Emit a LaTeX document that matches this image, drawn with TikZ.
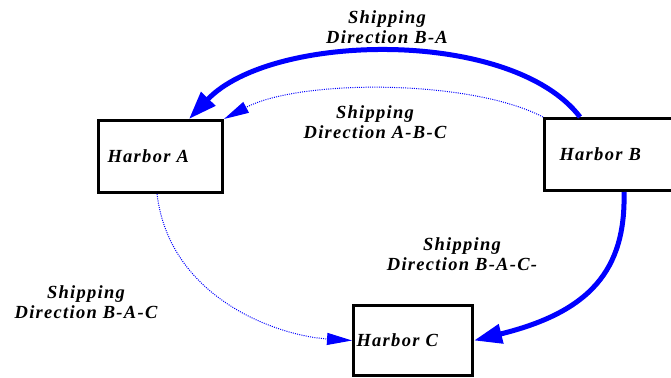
\documentclass[tikz,border=0pt]{standalone}
\usepackage{fontspec}
\setmainfont{Liberation Serif}[LetterSpace=7]
\usetikzlibrary{arrows.meta,calc}
\tikzset{
  harbor/.style={draw=black, line width=3pt, rectangle, minimum height=72pt, align=left,
    font=\bfseries\itshape\fontsize{18.5}{22}\selectfont, anchor=north west},
  lbl/.style={align=center, font=\bfseries\itshape\fontsize{18.5}{20.5}\selectfont},
  thick/.style={draw=blue, line width=5pt, -{Triangle[length=28pt,width=19pt]}, fill=none},
  thin/.style={draw=blue, line width=1pt, dash pattern=on 1pt off 1.2pt, -{Triangle[length=25pt,width=12pt]}},
}
\begin{document}
\begin{tikzpicture}[x=1pt,y=-1pt]
\useasboundingbox (0,0) rectangle (671,377);
\clip (0,0) rectangle (671,377);
\node[harbor, text width=106pt, inner xsep=9pt, inner ysep=0pt] (A) at (97,119) {Harbor A};
\node[harbor, text width=114pt, inner xsep=15pt, inner ysep=0pt] (B) at (543,117) {Harbor B};
\node[harbor, text width=113pt, inner xsep=3pt, inner ysep=0pt, minimum height=70pt] (C) at (352,304) {Harbor C};
\node[lbl] (L1) at (387,27) {Shipping\\Direction B-A};
\node[lbl] (L2) at (375,122) {Shipping\\Direction A-B-C};
\node[lbl] (L3) at (462,254) {Shipping\\Direction B-A-C-};
\node[lbl] (L4) at (86,302) {Shipping\\Direction B-A-C};
% B -> A thick
\draw[thick] ($(B.north west)+(37,0)$) .. controls (512,28) and (272,32) .. ($(A.north west)+(92,0)$);
% B -> A dotted
\draw[thin] (B.north west) .. controls (470,79) and (300,79) .. (A.north east);
% B -> C thick
\draw[thick] ($(B.south west)+(81,0)$) .. controls (626,270) and (590,312) .. (C.east);
% A -> C dotted
\draw[thin] ($(A.south west)+(60,0)$) .. controls (170,300) and (280,336) .. (C.west);
\end{tikzpicture}
\end{document}
